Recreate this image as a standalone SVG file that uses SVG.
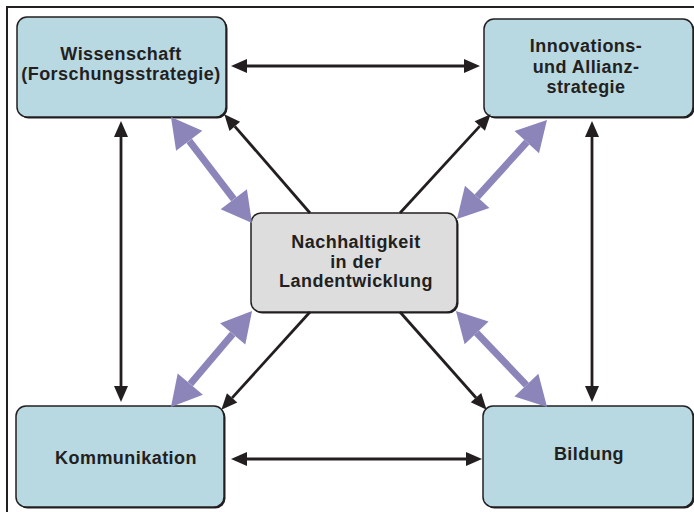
<svg xmlns="http://www.w3.org/2000/svg" width="694" height="512" viewBox="0 0 694 512">
  <style>
    .frame { fill: none; stroke: #231f20; stroke-width: 2; }
    .box { stroke: #231f20; stroke-width: 1.5; }
    .blue { fill: #b8d8e2; }
    .grey { fill: #dddddd; }
    .shadow { fill: #231f20; }
    .label { font-family: "Liberation Sans", Arial, sans-serif; font-weight: bold; font-size: 18px; letter-spacing: 0.45px; fill: #231f20; text-anchor: middle; }
    .link { stroke: #231f20; stroke-width: 2.8; fill: none; marker-start: url(#headBlack); marker-end: url(#headBlack); }
    .one { marker-start: none; }
    .mutual { stroke: #8b85ba; stroke-width: 7; fill: none; marker-start: url(#headPurple); marker-end: url(#headPurple); }
  </style>
  <defs>
    <marker id="headBlack" markerUnits="userSpaceOnUse" markerWidth="17" markerHeight="15" refX="0" refY="7" orient="auto-start-reverse" overflow="visible">
      <path d="M0,0 L16,7 L0,14 z" fill="#231f20"/>
    </marker>
    <marker id="headPurple" markerUnits="userSpaceOnUse" markerWidth="31" markerHeight="34" refX="0" refY="16.5" orient="auto-start-reverse" overflow="visible">
      <path d="M0,0 L30,16.5 L0,33 z" fill="#8b85ba"/>
    </marker>
  </defs>

  <!-- outer frame -->
  <rect class="frame" x="7" y="7" width="700" height="520"/>

  <g id="wissenschaft">
    <rect class="shadow" x="18.5" y="18.5" width="209" height="100" rx="10"/>
    <rect class="box blue" x="17" y="17" width="209" height="100" rx="10"/>
    <text class="label" x="121" y="59.5">Wissenschaft</text>
    <text class="label" x="121" y="79.5">(Forschungsstrategie)</text>
  </g>

  <g id="innovation">
    <rect class="shadow" x="485.5" y="20.5" width="209" height="98" rx="10"/>
    <rect class="box blue" x="484" y="19" width="209" height="98" rx="10"/>
    <text class="label" x="586" y="52">Innovations-</text>
    <text class="label" x="586" y="73">und Allianz-</text>
    <text class="label" x="586" y="93">strategie</text>
  </g>

  <g id="nachhaltigkeit">
    <rect class="shadow" x="252.5" y="214.5" width="206" height="99" rx="10"/>
    <rect class="box grey" x="251" y="213" width="206" height="99" rx="10"/>
    <text class="label" x="356" y="248">Nachhaltigkeit</text>
    <text class="label" x="356" y="267.5">in der</text>
    <text class="label" x="356" y="287">Landentwicklung</text>
  </g>

  <g id="kommunikation">
    <rect class="shadow" x="17.5" y="407.5" width="208" height="101" rx="10"/>
    <rect class="box blue" x="16" y="406" width="208" height="101" rx="10"/>
    <text class="label" x="126" y="464">Kommunikation</text>
  </g>

  <g id="bildung">
    <rect class="shadow" x="484.5" y="407.5" width="210" height="101" rx="10"/>
    <rect class="box blue" x="483" y="406" width="210" height="101" rx="10"/>
    <text class="label" x="589" y="460">Bildung</text>
  </g>

  <g id="connectors">
    <!-- links between the outer fields -->
    <path class="link" d="M247,66 L464,66"/>
    <path class="link" d="M247,459 L466,459"/>
    <path class="link" d="M121,137 L121,386"/>
    <path class="link" d="M592,137 L592,386"/>
    <!-- from the centre outwards -->
    <path class="link one" d="M310,213 L234.8,126.3"/>
    <path class="link one" d="M400,213 L479.8,126.1"/>
    <path class="link one" d="M310,312 L232.1,397.9"/>
    <path class="link one" d="M400,312 L476.0,397.7"/>
    <!-- mutual exchange with the centre -->
    <path class="mutual" d="M189.2,140.8 L233.8,199.2"/>
    <path class="mutual" d="M526.8,142.2 L477.2,196.8"/>
    <path class="mutual" d="M232.7,333.9 L190.3,384.1"/>
    <path class="mutual" d="M476.6,332.8 L526.4,385.2"/>
  </g>
</svg>
